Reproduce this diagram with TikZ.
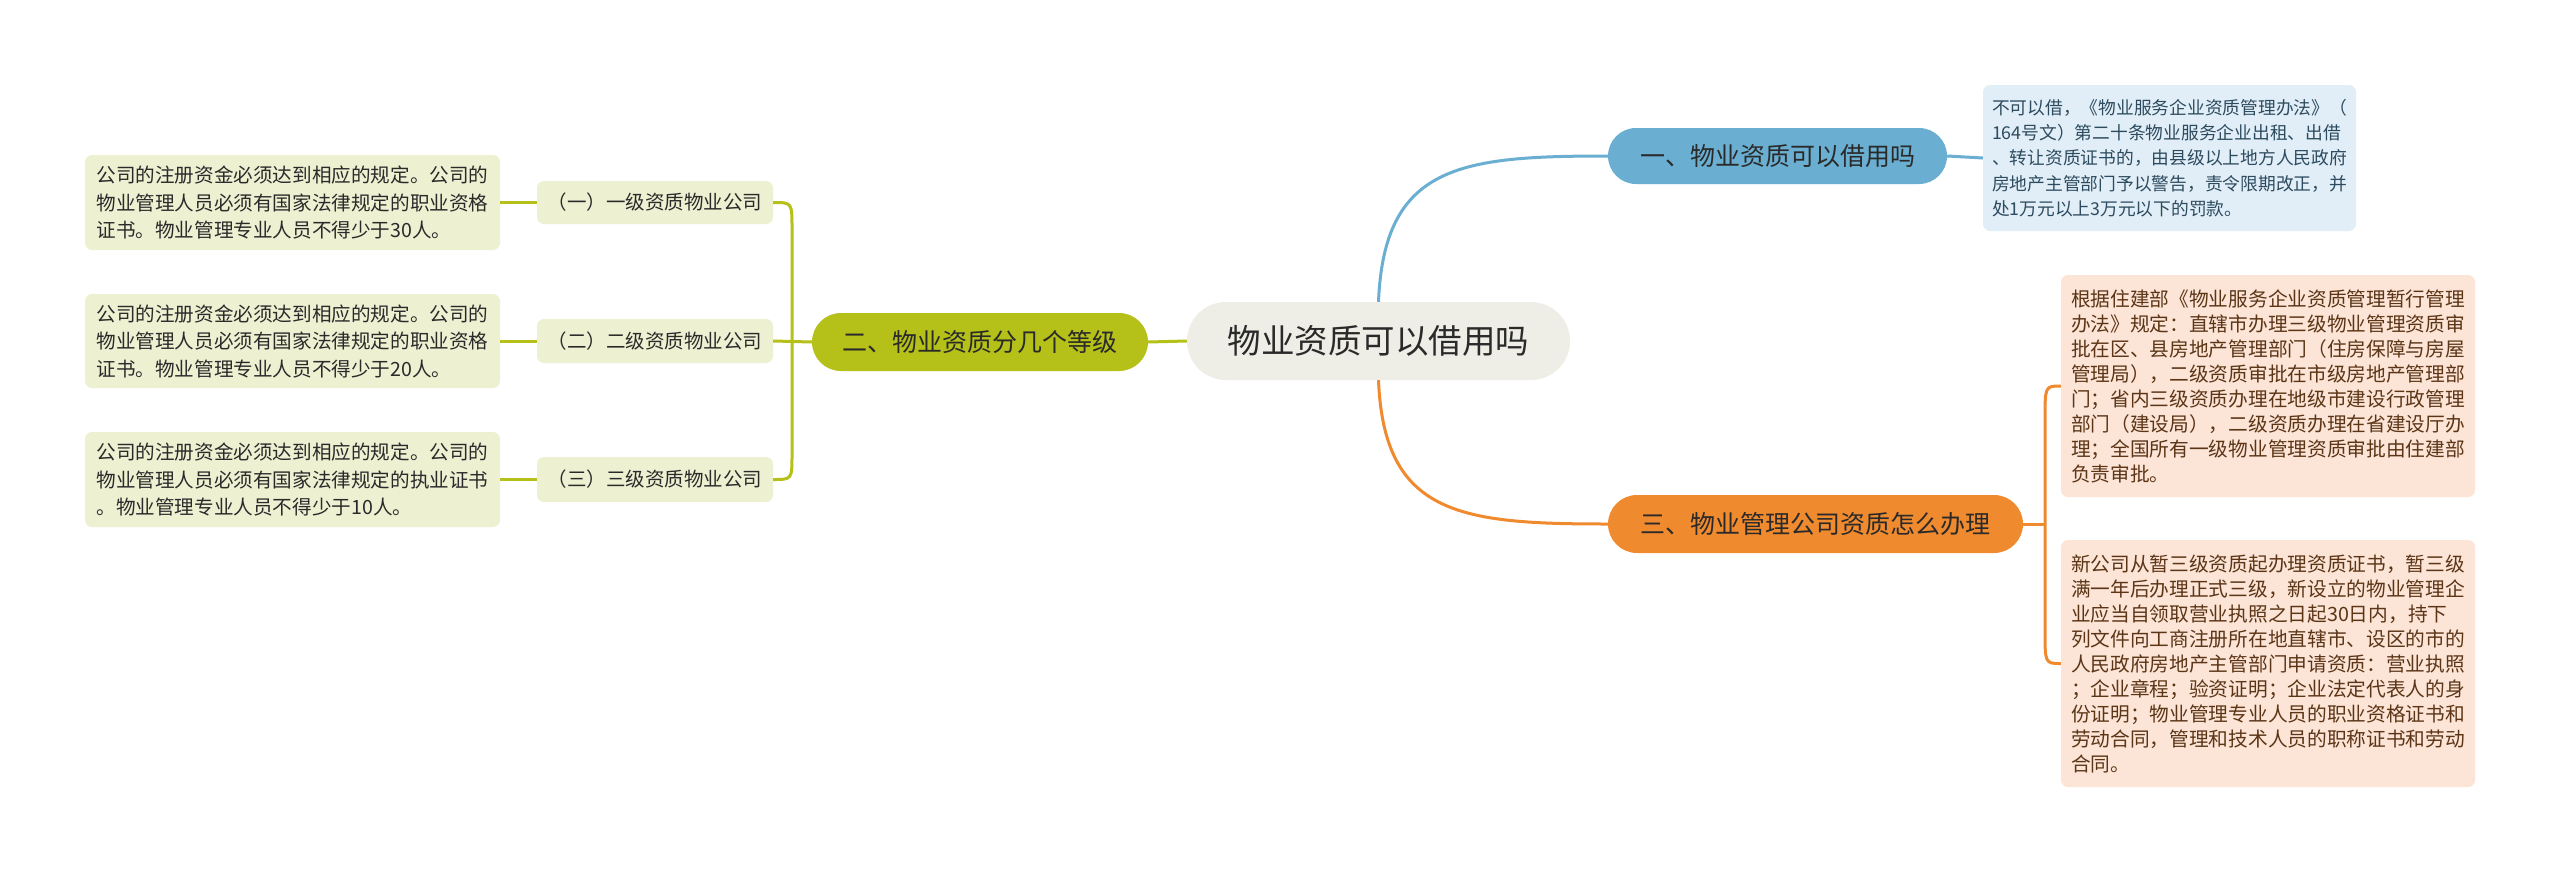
\documentclass[tikz,border=0pt]{standalone}
\usepackage{fontspec}
\setmainfont{Noto Sans CJK SC}
\definecolor{ctrfill}{HTML}{EEEEE6}
\definecolor{bluec}{HTML}{6AAFD1}
\definecolor{bluebox}{HTML}{E1EEF7}
\definecolor{bluetext}{HTML}{2D4B5F}
\definecolor{orangec}{HTML}{F08A2E}
\definecolor{orangebox}{HTML}{FCE4D6}
\definecolor{orangetext}{HTML}{5B3516}
\definecolor{greenc}{HTML}{B5C119}
\definecolor{greenbox}{HTML}{EEF0D2}
\definecolor{darktext}{HTML}{2A2A2A}
\begin{document}
\begin{tikzpicture}[x=1pt,y=-1pt,
  base/.style={inner sep=0pt, align=left, text=darktext},
  pill/.style={base, font=\fontsize{25}{30}\selectfont},
  subbox/.style={base, fill=greenbox, rounded corners=7pt, minimum width=236pt, font=\fontsize{19.5}{24}\selectfont},
  leafbox/.style={base, fill=greenbox, rounded corners=7pt, minimum width=415pt, font=\fontsize{19.6}{27.5}\selectfont},
  bluedet/.style={base, fill=bluebox, rounded corners=7pt, text=bluetext, font=\fontsize{17.75}{25.3}\selectfont},
  orangedet/.style={base, fill=orangebox, rounded corners=7pt, text=orangetext, font=\fontsize{19.7}{25}\selectfont},
  link/.style={line width=3pt}
]
\fill[white] (0,0) rectangle (2560,873);
\useasboundingbox (0,0) rectangle (2560,873);

% central
\node[base, fill=ctrfill, rounded corners=39pt, minimum width=383pt, minimum height=78pt, font=\fontsize{33.5}{40}\selectfont] (ctr) at (1378.5,341) {物业资质可以借用吗};

% main branches
\node[pill, fill=bluec, rounded corners=28pt, minimum width=339pt, minimum height=56pt] (n1) at (1777.5,156) {一、物业资质可以借用吗};
\node[pill, fill=greenc, rounded corners=29pt, minimum width=336pt, minimum height=58pt] (n2) at (980,342) {二、物业资质分几个等级};
\node[pill, fill=orangec, rounded corners=29pt, minimum width=415pt, minimum height=58pt] (n3) at (1815.5,524) {三、物业管理公司资质怎么办理};

% sub nodes of n2
\node[subbox, minimum height=43pt] (s1) at (655,202.5) {（一）一级资质物业公司};
\node[subbox, minimum height=44pt] (s2) at (655,341) {（二）二级资质物业公司};
\node[subbox, minimum height=45pt] (s3) at (655,479.5) {（三）三级资质物业公司};

% leaves
\node[leafbox, minimum height=95pt] (l1) at (292.5,202.5) {公司的注册资金必须达到相应的规定。公司的\\物业管理人员必须有国家法律规定的职业资格\\证书。物业管理专业人员不得少于30人。};
\node[leafbox, minimum height=94pt] (l2) at (292.5,341) {公司的注册资金必须达到相应的规定。公司的\\物业管理人员必须有国家法律规定的职业资格\\证书。物业管理专业人员不得少于20人。};
\node[leafbox, minimum height=95pt] (l3) at (292.5,479.5) {公司的注册资金必须达到相应的规定。公司的\\物业管理人员必须有国家法律规定的执业证书\\。物业管理专业人员不得少于10人。};

% blue detail
\node[bluedet, minimum width=373pt, minimum height=146pt] (b1) at (2169.5,158) {不可以借，《物业服务企业资质管理办法》（\\164号文）第二十条物业服务企业出租、出借\\、转让资质证书的，由县级以上地方人民政府\\房地产主管部门予以警告，责令限期改正，并\\处1万元以上3万元以下的罚款。};

% orange details
\node[orangedet, minimum width=414pt, minimum height=222pt] (o1) at (2268,386) {根据住建部《物业服务企业资质管理暂行管理\\办法》规定：直辖市办理三级物业管理资质审\\批在区、县房地产管理部门（住房保障与房屋\\管理局），二级资质审批在市级房地产管理部\\门；省内三级资质办理在地级市建设行政管理\\部门（建设局），二级资质办理在省建设厅办\\理；全国所有一级物业管理资质审批由住建部\\负责审批。};
\node[orangedet, minimum width=414pt, minimum height=247pt] (o2) at (2268,663.5) {新公司从暂三级资质起办理资质证书，暂三级\\满一年后办理正式三级，新设立的物业管理企\\业应当自领取营业执照之日起30日内，持下\\列文件向工商注册所在地直辖市、设区的市的\\人民政府房地产主管部门申请资质：营业执照\\；企业章程；验资证明；企业法定代表人的身\\份证明；物业管理专业人员的职业资格证书和\\劳动合同，管理和技术人员的职称证书和劳动\\合同。};

% bracket junctions
\coordinate (gj) at (792,341);
\coordinate (oj) at (2045,524);

% connectors
\draw[link, bluec] (ctr.north) .. controls (1384,165) and (1460,156) .. (n1.west);
\draw[link, orangec] (ctr.south) .. controls (1384,515) and (1460,524) .. (n3.west);
\draw[link, greenc] (ctr.west) -- (n2.east);
\draw[link, bluec] (n1.east) -- (b1.west);

\draw[link, greenc] (n2.west) -- (s2.east);
\draw[link, greenc] (s1.east) .. controls (792,202.5) .. (792,228) -- (792,454) .. controls (792,479.5) .. (s3.east);
\draw[link, greenc] (s1.west) -- (l1.east);
\draw[link, greenc] (s2.west) -- (l2.east);
\draw[link, greenc] (s3.west) -- (l3.east);

\draw[link, orangec] (n3.east) -- (oj);
\draw[link, orangec] (o1.west) .. controls (2045,386) .. (2045,420) -- (2045,630) .. controls (2045,663.5) .. (o2.west);
\end{tikzpicture}
\end{document}
